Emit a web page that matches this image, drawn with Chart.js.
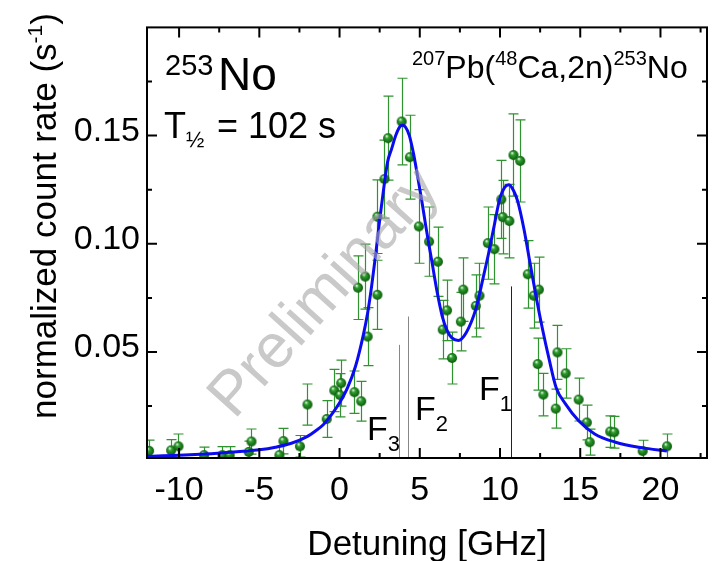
<!DOCTYPE html>
<html>
<head>
<meta charset="utf-8">
<script src="https://cdn.jsdelivr.net/npm/chart.js@4.4.1/dist/chart.umd.min.js"></script>
<style>
  html, body { margin: 0; padding: 0; background: #fff; }
  #wrap { width: 713px; height: 561px; }
</style>
</head>
<body>
<div id="wrap"><canvas id="spectrum" width="713" height="561"></canvas></div>
<script>
// measured count rate vs. laser detuning (GHz)
const detuning = [
  -11.87, -10.5, -10.04, -8.44, -7.3, -6.85, -5.66, -5.49, -3.75, -3.5,
  -2.47, -2.0, -0.8, -0.33, 0.1, 0.03, 0.93, 1.35, 1.75, 1.15,
  1.6, 2.36, 2.36, 2.8, 3.02, 3.87, 4.38, 4.94, 5.58, 6.13,
  6.7, 6.43, 7.01, 7.56, 7.71, 8.49, 8.72, 9.24, 9.65, 10.08,
  10.17, 10.58, 10.84, 11.26, 11.73, 12.1, 12.42, 12.35, 12.7, 13.47,
  13.58, 14.09, 14.9, 15.41, 15.59, 16.87, 17.12, 18.89, 20.41
];
const countRate = [
  0.0043, 0.0045, 0.0064, 0.0023, 0.0023, 0.0023, 0.0038, 0.0086, 0.0023, 0.0088,
  0.0064, 0.0257, 0.0190, 0.0322, 0.0356, 0.0300, 0.0314, 0.0272, 0.0571, 0.0797,
  0.0848, 0.0764, 0.1125, 0.1299, 0.1488, 0.1565, 0.1400, 0.1080, 0.1010, 0.0917,
  0.0692, 0.0603, 0.0472, 0.0640, 0.0788, 0.0713, 0.0760, 0.1003, 0.0975, 0.1205,
  0.1123, 0.1105, 0.1410, 0.1383, 0.0859, 0.0760, 0.0788, 0.0444, 0.0303, 0.0238,
  0.0498, 0.0401, 0.0280, 0.0174, 0.0083, 0.0132, 0.0129, 0.0042, 0.0064
];
const countRateErr = [
  0.0050, 0.0050, 0.0057, 0.0037, 0.0040, 0.0040, 0.0050, 0.0058, 0.0040, 0.0059,
  0.0050, 0.0095, 0.0085, 0.0098, 0.0106, 0.0100, 0.0098, 0.0092, 0.0134, 0.0147,
  0.0150, 0.0160, 0.0170, 0.0180, 0.0194, 0.0200, 0.0194, 0.0170, 0.0160, 0.0160,
  0.0140, 0.0135, 0.0120, 0.0135, 0.0147, 0.0143, 0.0150, 0.0167, 0.0160, 0.0180,
  0.0170, 0.0170, 0.0190, 0.0190, 0.0156, 0.0150, 0.0150, 0.0120, 0.0098, 0.0090,
  0.0125, 0.0114, 0.0099, 0.0080, 0.0060, 0.0073, 0.0073, 0.0050, 0.0057
];

// fitted hyperfine profile
const fitDetuning = [
  -12, -11, -10, -9, -8, -7, -6, -5, -4, -3,
  -2, -1.5, -1, -0.5, 0, 0.5, 1.0, 1.5, 1.75, 2.0,
  2.25, 2.5, 2.75, 3.0, 3.25, 3.5, 3.75, 3.9, 4.1, 4.35,
  4.6, 4.85, 5.1, 5.4, 5.75, 6.1, 6.4, 6.7, 7.0, 7.4,
  7.9, 8.5, 9.0, 9.3, 9.6, 10.0, 10.3, 10.56, 10.85, 11.1,
  11.5, 11.85, 12.25, 12.65, 13.05, 13.5, 14.1, 14.9, 15.9, 17.2,
  18.8, 20.4
];
const fitRate = [
  0.0018, 0.0020, 0.0023, 0.0026, 0.0030, 0.0035, 0.0041, 0.0048, 0.0060, 0.0078,
  0.0110, 0.0135, 0.0165, 0.0210, 0.0265, 0.0335, 0.0435, 0.0585, 0.0680, 0.0805,
  0.0950, 0.1110, 0.1255, 0.1380, 0.1440, 0.1500, 0.1540, 0.1548, 0.1540, 0.1500,
  0.1420, 0.1318, 0.1210, 0.1070, 0.0920, 0.0770, 0.0665, 0.0600, 0.0565, 0.0553,
  0.0590, 0.0700, 0.0860, 0.0960, 0.1070, 0.1212, 0.1262, 0.1273, 0.1245, 0.1197,
  0.1065, 0.0920, 0.0755, 0.0605, 0.0470, 0.0335, 0.0258, 0.0182, 0.0121, 0.0083,
  0.0058, 0.0042
];

// hyperfine component positions and relative strengths
const hfsLabels = ['3', '2', '1'];
const hfsPositions = [3.7, 4.26, 10.7];
const hfsHeights = [0.0533, 0.0664, 0.0803];

const xTickValues = [-10, -5, 0, 5, 10, 15, 20];
const yTickValues = [0.05, 0.10, 0.15];

const FONT = "'Liberation Sans', Arial, sans-serif";
Chart.defaults.font.family = FONT;
Chart.defaults.color = '#000';

// shaded green ball used as marker
function makeBall(r) {
  const c = document.createElement('canvas');
  c.width = c.height = r * 2 + 2;
  const g = c.getContext('2d');
  const cx = r + 1, cy = r + 1;
  const grad = g.createRadialGradient(cx - r * 0.3, cy - r * 0.45, r * 0.1, cx, cy, r);
  grad.addColorStop(0, '#d8f5d8');
  grad.addColorStop(0.3, '#2f9f2f');
  grad.addColorStop(1, '#0b5a0b');
  g.fillStyle = grad;
  g.beginPath();
  g.arc(cx, cy, r, 0, Math.PI * 2);
  g.fill();
  return c;
}
const ball = makeBall(5);

function clipArea(ctx, a) {
  ctx.beginPath();
  ctx.rect(a.left, a.top, a.right - a.left, a.bottom - a.top);
  ctx.clip();
}

// draws a run of text pieces with their own size and baseline shift
function drawRich(ctx, x, y, parts) {
  parts.forEach(p => {
    ctx.font = p.size + 'px ' + FONT;
    ctx.fillText(p.t, x, y + (p.dy || 0));
    x += ctx.measureText(p.t).width;
  });
}

const errorBars = {
  id: 'errorBars',
  beforeDatasetsDraw(chart) {
    const { ctx, chartArea, scales: { x, y } } = chart;
    ctx.save();
    clipArea(ctx, chartArea);
    ctx.strokeStyle = '#2f932f';
    ctx.lineWidth = 1.2;
    detuning.forEach((d, i) => {
      const px = Math.round(x.getPixelForValue(d)) + 0.5;
      const top = y.getPixelForValue(countRate[i] + countRateErr[i]);
      const bot = y.getPixelForValue(countRate[i] - countRateErr[i]);
      ctx.beginPath();
      ctx.moveTo(px, top); ctx.lineTo(px, bot);
      ctx.moveTo(px - 5, top); ctx.lineTo(px + 5, top);
      ctx.moveTo(px - 5, bot); ctx.lineTo(px + 5, bot);
      ctx.stroke();
    });
    // hyperfine component sticks
    hfsPositions.forEach((p, i) => {
      const px = Math.round(x.getPixelForValue(p)) + 0.5;
      ctx.strokeStyle = i === 2 ? '#222' : '#888';
      ctx.lineWidth = 1;
      ctx.beginPath();
      ctx.moveTo(px, y.getPixelForValue(hfsHeights[i]));
      ctx.lineTo(px, chartArea.bottom);
      ctx.stroke();
    });
    ctx.restore();
  },
  afterDatasetsDraw(chart) {
    const { ctx, chartArea } = chart;
    ctx.save();
    clipArea(ctx, chartArea);
    ctx.translate(338, 305);
    ctx.rotate(-48 * Math.PI / 180);
    ctx.font = '62px ' + FONT;
    ctx.textAlign = 'center';
    ctx.fillStyle = 'rgba(165,165,165,0.6)';
    ctx.fillText('Preliminary', 0, 0);
    ctx.restore();
  }
};

const frame = {
  id: 'frame',
  afterDraw(chart) {
    const { ctx, chartArea: a, scales: { x, y } } = chart;
    ctx.save();
    ctx.strokeStyle = '#000';
    ctx.lineWidth = 2;
    ctx.strokeRect(a.left, a.top, a.right - a.left, a.bottom - a.top);

    // inward ticks on all four sides
    const xStep = xTickValues[1] - xTickValues[0];
    const xMinor = xTickValues.map(v => v + xStep / 2).concat([xTickValues[0] - xStep / 2]);
    const yStep = yTickValues[1] - yTickValues[0];
    const yMinor = yTickValues.map(v => v - yStep / 2).concat([yTickValues[yTickValues.length - 1] + yStep / 2]);
    const tickX = (v, len) => {
      if (v < x.min || v > x.max) return;
      const px = x.getPixelForValue(v);
      ctx.beginPath();
      ctx.moveTo(px, a.bottom); ctx.lineTo(px, a.bottom - len);
      ctx.moveTo(px, a.top); ctx.lineTo(px, a.top + len);
      ctx.stroke();
    };
    const tickY = (v, len) => {
      if (v < y.min || v > y.max) return;
      const py = y.getPixelForValue(v);
      ctx.beginPath();
      ctx.moveTo(a.left, py); ctx.lineTo(a.left + len, py);
      ctx.moveTo(a.right, py); ctx.lineTo(a.right - len, py);
      ctx.stroke();
    };
    xTickValues.forEach(v => tickX(v, 10));
    xMinor.forEach(v => tickX(v, 5));
    yTickValues.forEach(v => tickY(v, 10));
    yMinor.forEach(v => tickY(v, 5));

    ctx.fillStyle = '#000';
    ctx.textBaseline = 'alphabetic';

    // axis titles
    ctx.font = '35px ' + FONT;
    ctx.textAlign = 'center';
    ctx.fillText('Detuning [GHz]', (a.left + a.right) / 2, 555);
    ctx.save();
    ctx.translate(56, 216);
    ctx.rotate(-Math.PI / 2);
    ctx.textAlign = 'left';
    const parts = [
      { t: 'normalized count rate (s', size: 35 },
      { t: '-1', size: 21, dy: -14 },
      { t: ')', size: 35 }
    ];
    let w = 0;
    parts.forEach(p => { ctx.font = p.size + 'px ' + FONT; w += ctx.measureText(p.t).width; });
    drawRich(ctx, -w / 2, 0, parts);
    ctx.restore();

    ctx.textAlign = 'left';
    drawRich(ctx, 165, 75, [{ t: '253', size: 29 }]);
    drawRich(ctx, 218, 90, [{ t: 'No', size: 46 }]);
    drawRich(ctx, 164, 138, [{ t: 'T', size: 36 }]);
    drawRich(ctx, 186, 147, [{ t: '\u00bd', size: 22 }]);
    drawRich(ctx, 217, 138, [{ t: '= 102 s', size: 36 }]);

    drawRich(ctx, 412, 78, [
      { t: '207', size: 20, dy: -13 },
      { t: 'Pb(', size: 32 },
      { t: '48', size: 20, dy: -13 },
      { t: 'Ca,2n)', size: 32 },
      { t: '253', size: 20, dy: -13 },
      { t: 'No', size: 32 }
    ]);

    // hyperfine component labels
    const fPos = [[367, 440], [415, 420], [479, 400]];
    hfsLabels.forEach((lab, i) => {
      drawRich(ctx, fPos[i][0], fPos[i][1], [
        { t: 'F', size: 34 },
        { t: lab, size: 22, dy: 11 }
      ]);
    });
    ctx.restore();
  }
};

const ctx = document.getElementById('spectrum').getContext('2d');
new Chart(ctx, {
  type: 'scatter',
  data: {
    datasets: [
      {
        label: 'fit',
        data: fitDetuning.map((d, i) => ({ x: d, y: fitRate[i] })),
        showLine: true,
        borderColor: '#0b0bf0',
        borderWidth: 3,
        pointRadius: 0,
        cubicInterpolationMode: 'monotone',
        clip: 0
      },
      {
        label: 'data',
        data: detuning.map((d, i) => ({ x: d, y: countRate[i] })),
        pointStyle: ball,
        pointRadius: 5,
        clip: 0
      }
    ]
  },
  options: {
    responsive: false,
    animation: false,
    devicePixelRatio: 1,
    layout: { padding: { top: 20, right: 1, left: 0, bottom: 0 } },
    plugins: {
      legend: { display: false },
      tooltip: { enabled: false }
    },
    scales: {
      x: {
        type: 'linear',
        min: -12,
        max: 22.9,
        grid: { display: false, drawTicks: false },
        border: { display: false },
        afterBuildTicks: s => { s.ticks = xTickValues.map(v => ({ value: v })); },
        afterFit: s => { s.height = 103; },
        ticks: {
          font: { size: 34 },
          padding: 12,
          maxRotation: 0,
          callback: v => String(v)
        }
      },
      y: {
        type: 'linear',
        min: 0.001,
        max: 0.2,
        grid: { display: false, drawTicks: false },
        border: { display: false },
        afterBuildTicks: s => { s.ticks = yTickValues.map(v => ({ value: v })); },
        afterFit: s => { s.width = 147; },
        ticks: {
          font: { size: 34 },
          padding: 7,
          labelOffset: -4,
          callback: v => v.toFixed(2)
        }
      }
    }
  },
  plugins: [errorBars, frame]
});
</script>
</body>
</html>
